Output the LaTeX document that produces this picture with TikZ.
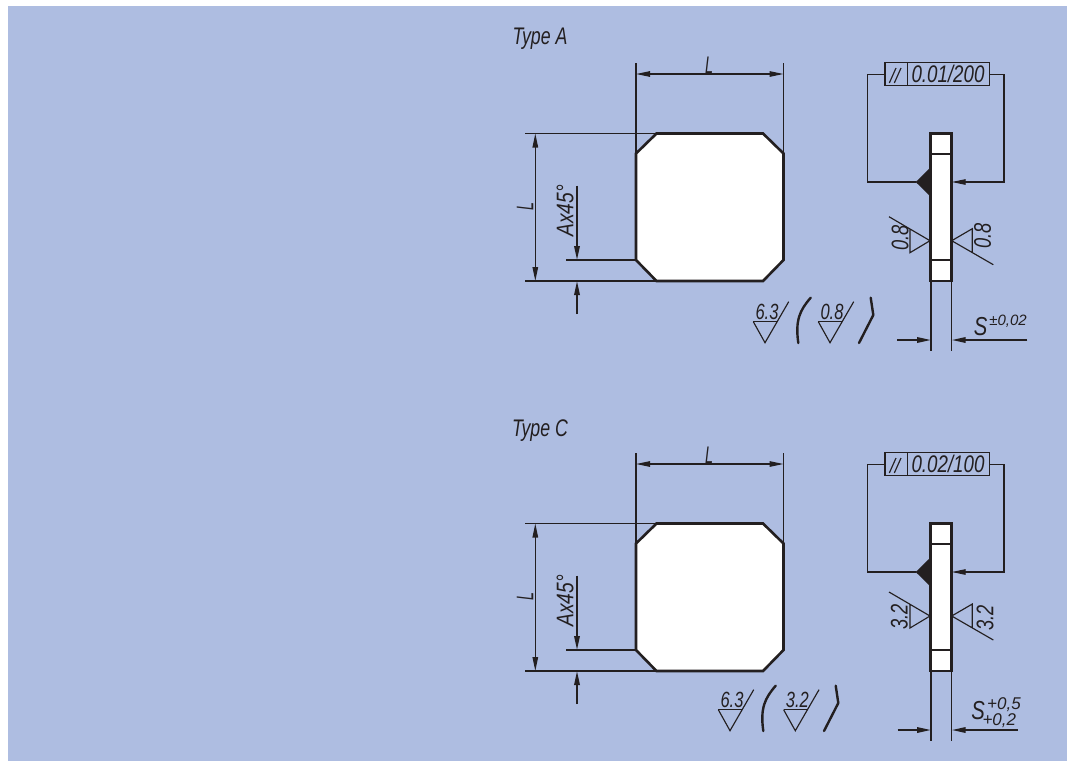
\documentclass[tikz,border=0pt]{standalone}
\usepackage{fontspec}
\setmainfont{Liberation Sans}
\usetikzlibrary{arrows.meta, positioning, calc}
\definecolor{PanelBlue}{RGB}{174, 189, 225}
\definecolor{InkDark}{RGB}{35, 31, 32}
\tikzset{
  x=1pt, y=-1pt,
  thinline/.style={color=InkDark, line width=1.15pt},
  heavyline/.style={color=InkDark, line width=1.7pt},
  outline/.style={draw=InkDark, line width=2.6pt, line join=miter},
  dimline/.style={thinline, {Triangle[length=14pt,width=5.5pt]}-{Triangle[length=14pt,width=5.5pt]}},
  tipline/.style={thinline, -{Triangle[length=14pt,width=5.5pt]}},
  heavytip/.style={heavyline, -{Triangle[length=14pt,width=5.5pt]}},
  bigtext/.style={font=\fontsize{24}{24}\selectfont\itshape, color=InkDark, inner sep=0pt},
  smalltext/.style={font=\fontsize{22}{22}\selectfont\itshape, color=InkDark, inner sep=0pt, xscale=.75},
  tinytext/.style={font=\fontsize{15}{15}\selectfont\itshape, color=InkDark, inner sep=0pt},
  brace/.style={color=InkDark, line width=2.4pt, line cap=round, line join=round},
}
% surface mark: x and y of the apex, then the value
\newcommand{\surfacemark}[3]{
  \draw[thinline] (#1-11.7,#2-21) -- (#1+11.7,#2-21);
  \draw[thinline] (#1-11.7,#2-21) -- (#1,#2) -- (#1+23.7,#2-41);
  \node[smalltext] at (#1+2,#2-31) {#3};
}
% marks on both faces of the side view: y of the tips
\newcommand{\facemarks}[1]{
  \draw[thinline] (889,#1-24) -- (930,#1) -- (910,#1+12) -- (910,#1-12);
  \draw[thinline] (993.3,#1+24) -- (951.7,#1) -- (972.3,#1-12) -- (972.3,#1+12);
}
% the plate, the side view and their dimensions
\newcommand{\plateview}[1]{
  % Front view
  \draw[thinline] (525,133.5) -- (656,133.5);
  \draw[thinline] (525,281) -- (656,281);
  \draw[thinline] (566,260) -- (636,260);
  \draw[thinline] (636,63) -- (636,153);
  \draw[thinline] (783.5,63) -- (783.5,153);
  \draw[outline, fill=white] (636,153.5) -- (656.5,133.5) -- (763,133.5) -- (783.5,153.5)
    -- (783.5,260) -- (763,281) -- (656.5,281) -- (636,260) -- cycle;
  \draw[dimline] (636,74) -- (783.5,74);
  \node[bigtext, xscale=.6] (lt) at (709,65) {L};
  \draw[dimline] (535.3,133.5) -- (535.3,281);
  \node[bigtext, rotate=90, xscale=.6] (ll) at (525,206.7) {L};
  \draw[heavytip] (577,185.7) -- (577,260);
  \draw[heavytip] (577,314) -- (577,281);
  \node[bigtext, rotate=90, xscale=.8] (ax) at (565,210.7) {Ax45°};
  % Side view
  \draw[thinline] (931,281) -- (931,350.7);
  \draw[thinline] (951.7,281) -- (951.7,350.7);
  \draw[outline, fill=white] (930.5,133.5) rectangle (951.5,281);
  \draw[outline] (930.5,154) -- (951.5,154);
  \draw[outline] (930.5,260) -- (951.5,260);
  \fill[InkDark] (915.7,182) -- (930,168) -- (930,196) -- cycle;
  % Tolerance frame
  \node[bigtext, xscale=.78, anchor=center] (tol) at (948,74) {#1};
  \draw[thinline] (885,62.7) rectangle (989.3,85.3);
  \draw[thinline] (907.7,62.7) -- (907.7,85.3);
  \draw[thinline] (889.3,83) -- (896,68);
  \draw[thinline] (894.3,83) -- (901,68);
  \draw[thinline] (915.7,182) -- (867.7,182) |- (885,74.3);
  \draw[tipline] (989.3,74.3) -- (1004,74.3) |- (951.7,182);
}

\begin{document}
\begin{tikzpicture}
\useasboundingbox (0,0) rectangle (1067,761);
\fill[PanelBlue] (8,6) rectangle (1067,761);

% Type A
\node[bigtext, xscale=.74] (ta) at (540,39) {Type A};
\plateview{0.01/200}
\facemarks{240.7}
\node[bigtext, rotate=90, xscale=.76] (fa1) at (900,238) {0.8};
\node[bigtext, rotate=90, xscale=.76] (fa2) at (982.7,236) {0.8};
\surfacemark{765}{342.7}{6.3}
\surfacemark{830}{342.7}{0.8}
\draw[brace] (810.7,297.7) .. controls (800,310) and (795,320) .. (798.3,343);
\draw[brace] (870.7,297.7) -- (873.3,315) -- (859,343);
\draw[heavytip] (897.3,340) -- (931,340);
\draw[heavytip] (1027.3,340) -- (951.7,340);
\node[bigtext, font=\fontsize{26}{26}\selectfont\itshape, xscale=.78] (sa) at (980.7,327) {S};
\node[tinytext] (sa1) at (1008,321.7) {±0,02};

% Type C
\node[bigtext, xscale=.74] (tc) at (540,431) {Type C};
\begin{scope}[shift={(0,390)}]
\plateview{0.02/100}
\end{scope}
\facemarks{616}
\node[bigtext, rotate=90, xscale=.76] (fc1) at (899.3,616.7) {3.2};
\node[bigtext, rotate=90, xscale=.76] (fc2) at (985,618) {3.2};
\surfacemark{730}{730.7}{6.3}
\surfacemark{795.3}{730.7}{3.2}
\draw[brace] (775.7,685.7) .. controls (765,698) and (760,708) .. (763.3,731);
\draw[brace] (835.7,685.7) -- (838.3,703) -- (824,731);
\draw[heavytip] (897.7,730) -- (931,730);
\draw[heavytip] (1017.7,730) -- (951.7,730);
\node[bigtext, font=\fontsize{26}{26}\selectfont\itshape, xscale=.78] (sc) at (978,711) {S};
\node[tinytext, font=\fontsize{17}{17}\selectfont\itshape] (sc1) at (1004,705) {+0,5};
\node[tinytext, font=\fontsize{17}{17}\selectfont\itshape] (sc2) at (999.3,721) {+0,2};
\end{tikzpicture}
\end{document}
